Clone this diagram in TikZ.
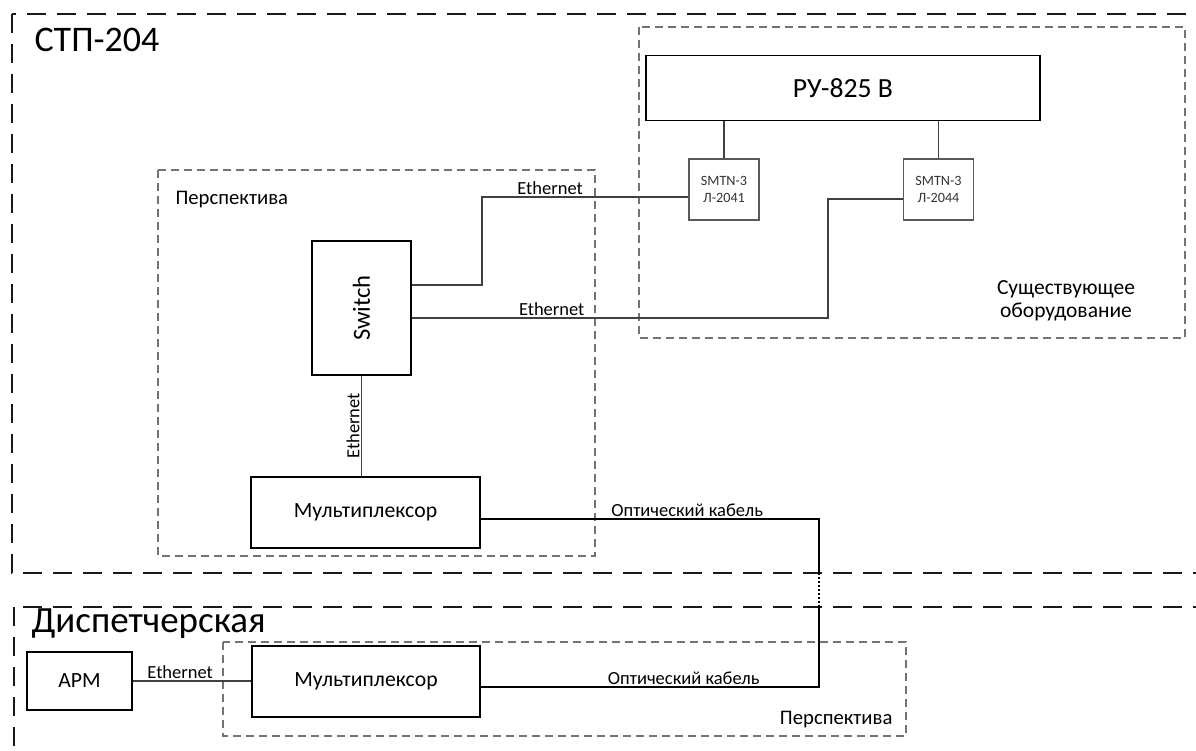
\documentclass[tikz,border=0pt]{standalone}
\usepackage{fontspec}
\setmainfont{Carlito}
\begin{document}
\begin{tikzpicture}[x=1pt, y=-1pt,
    box/.style={draw=black, line width=1.8pt, inner sep=0pt, font=\fontsize{21.7}{26}\selectfont},
    smtn/.style={draw=black!65, line width=1.2pt, inner sep=0pt, minimum width=70pt, minimum height=61pt, align=center, text=black!80, font=\fontsize{14.2}{17}\selectfont},
    link/.style={draw=black!75, line width=1.2pt},
    optic/.style={draw=black, line width=2pt},
    lbl/.style={font=\fontsize{18.5}{22}\selectfont, inner sep=1.5pt},
    zone/.style={draw=black!90, line width=2.4pt, dash pattern=on 19pt off 11pt},
    area/.style={draw=black!55, line width=1.3pt, dash pattern=on 8pt off 5pt}]
    \useasboundingbox (0,0) rectangle (1196,751);
    \clip (0,0) rectangle (1196,751);

    \draw[zone] (12,14) rectangle (1240,573);
    \draw[zone] (14,607) rectangle (1240,790);
    \draw[area] (158,170) rectangle (595,556);
    \draw[area] (639,27) rectangle (1185,338);
    \draw[area] (223,642) rectangle (906,736);

    \node (stp) [anchor=west, font=\fontsize{36}{42}\selectfont] at (31,40) {СТП-204};
    \node (disp) [anchor=west, font=\fontsize{37}{44}\selectfont] at (28,624) {Диспетчерская};
    \node (persp1) [anchor=west, font=\fontsize{20.7}{25}\selectfont] at (172,200) {Перспектива};
    \node (persp2) [anchor=east, font=\fontsize{20.7}{25}\selectfont] at (896,720) {Перспектива};
    \node (exist) [align=center, font=\fontsize{21.5}{23}\selectfont] at (1066,301) {Существующее\\оборудование};

    \node (ru) [box, minimum width=394pt, minimum height=65pt, font=\fontsize{27.7}{32}\selectfont] at (843,88) {РУ-825 В};
    \node (smtn1) [smtn] at (724,189.5) {SMTN-3\\Л-2041};
    \node (smtn2) [smtn] at (938.5,189.5) {SMTN-3\\Л-2044};
    \node (sw) [box, minimum width=99pt, minimum height=134pt, font=\fontsize{24.6}{29}\selectfont] at (361.5,308) {\rotatebox{90}{Switch}};
    \node (mux1) [box, minimum width=229pt, minimum height=71pt] at (365.5,512.5) {Мультиплексор};
    \node (arm) [box, minimum width=105pt, minimum height=58pt] at (79.5,681) {АРМ};
    \node (mux2) [box, minimum width=228pt, minimum height=71pt] at (366,681.5) {Мультиплексор};

    \coordinate (b1) at (482,197);
    \coordinate (b2) at (828,199);
    \coordinate (o1) at (819,519);
    \coordinate (o2) at (819,573);
    \coordinate (o3) at (819,607);
    \coordinate (o4) at (819,687);

    \path[link] (smtn1.north) edge (smtn1.north |- ru.south);
    \path[link] (smtn2.north) edge (smtn2.north |- ru.south);
    \draw[link] ([yshift=23pt]sw.east) -| (b1) -- node[lbl, above, pos=0.33] {Ethernet} (b1 -| smtn1.west);
    \draw[link] ([yshift=-10pt]sw.east) -- node[lbl, above, pos=0.336] {Ethernet} (b2 |- 0,318) -- (b2) -- (b2 -| smtn2.west);
    \draw[link] (sw.south) -- node[lbl, rotate=90, anchor=south, midway] {Ethernet} (sw.south |- mux1.north);
    \draw[link] (arm.east) -- node[lbl, above, pos=0.4] {Ethernet} (arm.east -| mux2.west);

    \draw[optic] ([yshift=-6.5pt]mux1.east) -- node[lbl, above, pos=0.61] {Оптический кабель} (o1) -- (o2);
    \draw[optic, dotted] (o2) -- (o3);
    \draw[optic] (o3) -- (o4) -- node[lbl, above, pos=0.4] {Оптический кабель} ([yshift=-5.5pt]mux2.east);
\end{tikzpicture}
\end{document}
